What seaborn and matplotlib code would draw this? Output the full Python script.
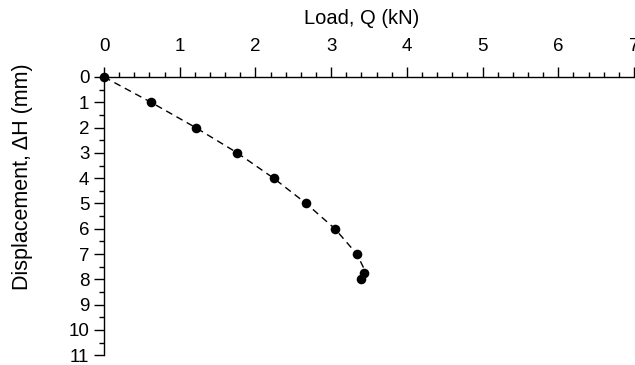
import matplotlib
matplotlib.use("Agg")
import matplotlib.pyplot as plt
import seaborn as sns
import pandas as pd
from matplotlib.ticker import MultipleLocator

# Measured data
load_kN = [0.0, 0.62, 1.21, 1.76, 2.24, 2.67, 3.05, 3.34, 3.44, 3.39]
disp_mm = [0.0, 1.0, 2.0, 3.0, 4.0, 5.0, 6.0, 7.0, 7.75, 8.0]

# Dashed trend curve
curve_load = [0.0, 0.62, 1.21, 1.76, 2.24, 2.67, 3.05, 3.34, 3.43]
curve_disp = [0.0, 1.0, 2.0, 3.0, 4.0, 5.0, 6.0, 7.0, 7.55]

x_ticks = [0, 1, 2, 3, 4, 5, 6, 7]
y_ticks = list(range(0, 12))

sns.set_theme(style="white")
plt.rcParams['font.family'] = ['Liberation Sans', 'DejaVu Sans']

fig = plt.figure(figsize=(6.35, 3.65), dpi=100)
ax = fig.add_axes([0.1638, 0.0266, 0.8346, 0.7625])

pts = pd.DataFrame({"Q": load_kN, "H": disp_mm})
crv = pd.DataFrame({"Q": curve_load, "H": curve_disp})

sns.lineplot(data=crv, x="Q", y="H", sort=False, ax=ax, color="black",
             linewidth=1.0, linestyle=(0, (5, 3.5)), estimator=None)
sns.scatterplot(data=pts, x="Q", y="H", ax=ax, color="black", s=48,
                edgecolor="black", linewidth=0, zorder=5, clip_on=False)

ax.set_xlim(0, 7)
ax.set_ylim(11, 0)
ax.xaxis.set_ticks_position("top")
ax.xaxis.set_label_position("top")
ax.set_xticks(x_ticks)
ax.set_yticks(y_ticks)
ax.xaxis.set_minor_locator(MultipleLocator(0.2))
ax.yaxis.set_minor_locator(MultipleLocator(0.5))

for s in ["right", "bottom"]:
    ax.spines[s].set_visible(False)
for s in ["top", "left"]:
    ax.spines[s].set_color("black")
    ax.spines[s].set_linewidth(1.0)

ax.tick_params(axis="both", which="major", direction="out", length=7.5,
               width=1.0, color="black", labelsize=13.5, labelcolor="black")
ax.tick_params(axis="both", which="minor", direction="out", length=3.8,
               width=1.0, color="black")
ax.tick_params(axis="x", which="both", top=True, bottom=False, pad=8.5)
ax.tick_params(axis="y", which="both", left=True, right=False, pad=3)

ax.set_xlabel("Load, Q (kN)", fontsize=14.5, color="black")
ax.xaxis.set_label_coords(0.486, 1.19)
ax.set_ylabel("Displacement, ΔH (mm)", fontsize=15.5, color="black")
ax.yaxis.set_label_coords(-0.134, 0.64)

fig.savefig("out.png", dpi=100)
